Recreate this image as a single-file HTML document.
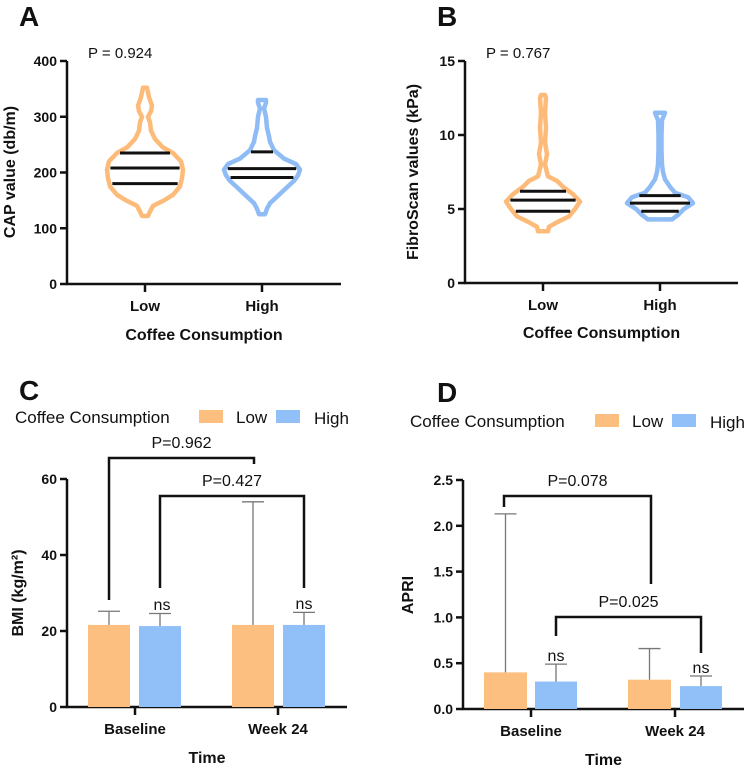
<!DOCTYPE html>
<html><head><meta charset="utf-8"><style>
body{margin:0;background:#fff}
svg{display:block;font-family:"Liberation Sans",Arial,sans-serif}
</style></head><body>
<svg id="s" width="749" height="767" viewBox="0 0 749 767"></svg>
<script>
// ---- data ----
const groups = ["Low","High"];
const capLowProfile = [[122,3],[130,5],[140,8],[150,19],[160,28],[175,35],[190,37],[205,38],[220,36],[235,28],[245,18],[260,10],[275,6],[290,5],[300,3],[310,6],[320,7],[335,4],[352,2]];
const capHighProfile = [[125,3],[135,5],[145,8],[155,14],[165,20],[175,26],[185,32],[195,36],[205,38],[215,34],[225,22],[240,12],[255,8],[265,7],[280,5],[300,4],[315,2],[325,4],[330,4]];
const capQuartiles = [[180,208,235],[191,207,237]];
const fibLowProfile = [[3.5,5],[3.8,6],[4.1,14],[4.5,26],[5.0,32],[5.5,37],[6.0,30],[6.5,20],[6.9,14],[7.2,5],[8,2],[8.7,4],[9.5,2],[10.5,3],[11.5,2],[12.5,3],[12.7,2]];
const fibHighProfile = [[4.3,12],[4.6,18],[5.0,24],[5.4,33],[5.8,28],[6.1,15],[6.5,10],[7.0,5],[7.5,3],[8.0,2],[9,1.5],[10,1.5],[11,2],[11.5,5]];
const fibQuartiles = [[4.85,5.6,6.2],[4.85,5.4,5.9]];
const timepoints = ["Baseline","Week 24"];
const bmiLow = [21.6,21.6], bmiHigh = [21.3,21.6];
const bmiLowErr = [25.2,54], bmiHighErr = [24.6,24.9];
const apriLow = [0.40,0.32], apriHigh = [0.30,0.25];
const apriLowErr = [2.13,0.66], apriHighErr = [0.49,0.36];
const capTicks=[0,100,200,300,400], fibTicks=[0,5,10,15], bmiTicks=[0,20,40,60], apriTicks=["0.0","0.5","1.0","1.5","2.0","2.5"];
const ORANGE="#fdbf7f", BLUE="#91bff7", OSTROKE="#fdbb79", BSTROKE="#8fbcf5";
// ---- helpers ----
const S=document.getElementById('s'), NS="http://www.w3.org/2000/svg";
function el(tag,attrs,parent,text){const e=document.createElementNS(NS,tag);for(const k in attrs)e.setAttribute(k,attrs[k]);if(text!==undefined)e.textContent=text;(parent||S).appendChild(e);return e;}
function txt(x,y,s,size,bold,anchor,name,rot){const e=el('text',{x:x,y:y,'font-size':size,'font-weight':bold?'bold':'normal','text-anchor':anchor||'middle',fill:'#111'},S,s);


if(rot)e.setAttribute('transform','rotate(-90 '+x+' '+y+')');return e;}
function line(x1,y1,x2,y2,w,c,name){const e=el('line',{x1:x1,y1:y1,x2:x2,y2:y2,stroke:c||'#111','stroke-width':w||2.5});


return e;}
function axes(x0,y0,yTop,xEnd,ticks,vmax,tickXs,cats,ylab,xlab,xlabY,nm){
 const sy=v=>y0-(v/vmax)*(y0-yTop);
 line(x0,yTop,x0,y0+1,2.5,'#111',nm+'-y-axis');
 line(x0-1,y0,xEnd,y0,2.5,'#111',nm+'-x-axis');
 ticks.forEach(t=>{const v=parseFloat(t);line(x0-7,sy(v),x0,sy(v),2.5,'#111',nm+'-y-tick');txt(x0-10,sy(v)+5,String(t),14,true,'end',nm+'-y-tick-label');});
 tickXs.forEach((x,i)=>{line(x,y0,x,y0+8,2.5,'#111',nm+'-x-tick');txt(x,y0+27,cats[i],15,true,'middle',nm+'-x-tick-label');});
 txt((x0+xEnd)/2,xlabY,xlab,16,true,'middle',nm+'-x-axis-title');
 return sy;}
function violin(cx,sy,prof,quart,color,name){
 let r=prof.map(p=>[cx+p[1],sy(p[0])]), l=prof.slice().reverse().map(p=>[cx-p[1],sy(p[0])]);
 const d='M'+r.concat(l).map(p=>p[0].toFixed(1)+','+p[1].toFixed(1)).join(' L')+'Z';
 const v=el('path',{d:d,fill:'none',stroke:color,'stroke-width':4.5,'stroke-linejoin':'round'});
 
 
 quart.forEach(q=>{let w=0;for(let i=0;i<prof.length-1;i++){if(q>=prof[i][0]&&q<=prof[i+1][0]){const f=(q-prof[i][0])/(prof[i+1][0]-prof[i][0]);w=prof[i][1]+f*(prof[i+1][1]-prof[i][1]);}}
  line(cx-w+3,sy(q),cx+w-3,sy(q),3,'#111',name+'-quartile');});}
function bar(x,w,sy,val,err,color,name){
 const b=el('rect',{x:x,y:sy(val),width:w,height:sy(0)-sy(val),fill:color});
 
 
 const cx=x+w/2;line(cx,sy(val),cx,sy(err),1.3,'#777',name+'-error-bar');line(cx-11,sy(err),cx+11,sy(err),1.3,'#777',name+'-error-cap');}
function legend(x,y,sw1,sw2,name){
 txt(x,y,'Coffee Consumption',17,false,'start',name+'-title');
 const a=el('rect',{x:sw1,y:y-13,width:24,height:13,fill:ORANGE});
 txt(sw1+37,y,'Low',17,false,'start',name+'-low-label');
 const b=el('rect',{x:sw2,y:y-13,width:24,height:13,fill:BLUE});
 txt(sw2+38,y+1,'High',17,false,'start',name+'-high-label');}
function bracket(x1,x2,y,yl,yr,label,ly,name){
 const p=el('path',{d:`M${x1},${yl} L${x1},${y} L${x2},${y} L${x2},${yr}`,fill:'none',stroke:'#111','stroke-width':2.5});
 
 
 txt((x1+x2)/2,ly,label,16,false,'middle',name+'-label');}
// ---- Panel A ----
txt(19,26,'A',28,true,'start','panel-a-label');
txt(88,58,'P = 0.924',15,false,'start','panel-a-p-value');
let sa=axes(67,284,61,341,capTicks,400,[145,262],groups,'','Coffee Consumption',340,'panel-a');
txt(15,172,'CAP value (db/m)',16,true,'middle','panel-a-y-axis-title',true);
violin(145,sa,capLowProfile,capQuartiles[0],OSTROKE,'cap-low-violin');
violin(262,sa,capHighProfile,capQuartiles[1],BSTROKE,'cap-high-violin');
// ---- Panel B ----
txt(437,26,'B',28,true,'start','panel-b-label');
txt(486,58,'P = 0.767',15,false,'start','panel-b-p-value');
let sb=axes(465,283,61,738,fibTicks,15,[543,660],groups,'','Coffee Consumption',338,'panel-b');
txt(418,172,'FibroScan values (kPa)',16,true,'middle','panel-b-y-axis-title',true);
violin(543,sb,fibLowProfile,fibQuartiles[0],OSTROKE,'fib-low-violin');
violin(660,sb,fibHighProfile,fibQuartiles[1],BSTROKE,'fib-high-violin');
// ---- Panel C ----
txt(19,400,'C',28,true,'start','panel-c-label');
legend(15,423,199,276,'panel-c-legend');
let sc=axes(67,707,479,347,bmiTicks,60,[135,278],timepoints,'','Time',763,'panel-c');
txt(23,593,'BMI (kg/m²)',16,true,'middle','panel-c-y-axis-title',true);
[88,232].forEach((x,i)=>bar(x,42,sc,bmiLow[i],bmiLowErr[i],ORANGE,'bmi-low-bar-'+i));
[139,283].forEach((x,i)=>bar(x,42,sc,bmiHigh[i],bmiHighErr[i],BLUE,'bmi-high-bar-'+i));
bracket(109,254,458,600,464,'P=0.962',448,'bmi-bracket-low');
bracket(160,304,496,588,588,'P=0.427',486,'bmi-bracket-high');
txt(162,610,'ns',16,false,'middle','bmi-ns-baseline');
txt(304,609,'ns',16,false,'middle','bmi-ns-week24');
// ---- Panel D ----
txt(437,402,'D',28,true,'start','panel-d-label');
legend(410,427,595,672,'panel-d-legend');
let sd=axes(463,709,480,744,apriTicks,2.5,[531,675],timepoints,'','Time',765,'panel-d');
txt(413,595,'APRI',16,true,'middle','panel-d-y-axis-title',true);
[484,628].forEach((x,i)=>bar(x,43,sd,apriLow[i],apriLowErr[i],ORANGE,'apri-low-bar-'+i));
[535,680].forEach((x,i)=>bar(x,42,sd,apriHigh[i],apriHighErr[i],BLUE,'apri-high-bar-'+i));
bracket(504,651,496,507,584,'P=0.078',486,'apri-bracket-low');
bracket(556,701,617,636,653,'P=0.025',607,'apri-bracket-high');
txt(556,661,'ns',16,false,'middle','apri-ns-baseline');
txt(701,673,'ns',16,false,'middle','apri-ns-week24');
</script>
</body></html>
